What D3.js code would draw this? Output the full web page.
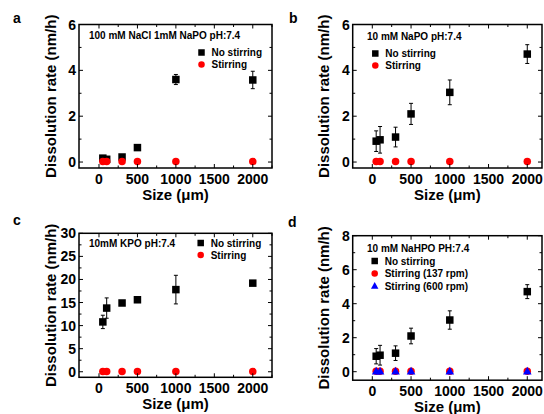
<!DOCTYPE html>
<html>
<head>
<meta charset="utf-8">
<script src="https://cdn.jsdelivr.net/npm/d3@7"></script>
<style>
  body { margin: 0; background: #fff; }
  svg { font-family: "Liberation Sans", Arial, sans-serif; font-weight: bold; }
</style>
</head>
<body>
<svg width="544" height="414"></svg>
<script>
// sizes (um)
const sizes = [50, 100, 300, 500, 1000, 2000];

// panel a: 100 mM NaCl 1mM NaPO
const noStirA = [0.17, 0.12, 0.22, 0.63, 3.6, 3.58];
const errA = [0.05, 0.05, 0.05, 0.08, 0.22, 0.38];
const stirA = [0.02, 0.02, 0.02, 0.02, 0.02, 0.02];

// panel b: 10 mM NaPO
const noStirB = [0.91, 0.97, 1.09, 2.1, 3.04, 4.71];
const errB = [0.45, 0.58, 0.43, 0.46, 0.54, 0.41];
const stirB = [0.02, 0.02, 0.02, 0.02, 0.02, 0.02];

// panel c: 10mM KPO
const noStirC = [10.8, 13.8, 14.9, 15.6, 17.8, 19.2];
const errC = [1.45, 2.2, 0.5, 0.6, 3.1, 0.4];
const stirC = [0.05, 0.05, 0.05, 0.05, 0.05, 0.05];

// panel d: 10 mM NaHPO
const noStirD = [0.91, 0.97, 1.09, 2.1, 3.04, 4.71];
const errD = [0.45, 0.58, 0.43, 0.46, 0.54, 0.41];
const stir137D = [0.02, 0.02, 0.02, 0.02, 0.02, 0.02];
const stir600D = [0.02, 0.02, 0.02, 0.02, 0.02, 0.02];

const xTicks = [0, 500, 1000, 1500, 2000];

const svg = d3.select("svg");

const panels = [
  { letter: "a", lx: 13, ly: 23, left: 79, right: 272, top: 24.5, bottom: 168,
    xDom: [-260, 2250],
    yDom: [-0.26, 6], yTicks: [0, 2, 4, 6], yMinor: 1,
    note: "100 mM NaCl 1mM NaPO pH:7.4", noteX: 89, noteY: 39,
    series: [
      { name: "No stirring", vals: noStirA, err: errA, sym: "square", color: "#000" },
      { name: "Stirring", vals: stirA, sym: "circle", color: "#ff0000" }
    ],
    legX: 201.5, legY: 52.5 },
  { letter: "b", lx: 289, ly: 23, left: 352.7, right: 542, top: 24.5, bottom: 168,
    xDom: [-253, 2190],
    yDom: [-0.26, 6], yTicks: [0, 2, 4, 6], yMinor: 1,
    note: "10 mM NaPO pH:7.4", noteX: 367, noteY: 39.5,
    series: [
      { name: "No stirring", vals: noStirB, err: errB, sym: "square", color: "#000" },
      { name: "Stirring", vals: stirB, sym: "circle", color: "#ff0000" }
    ],
    legX: 375.3, legY: 53.5 },
  { letter: "c", lx: 13, ly: 225, left: 79, right: 272, top: 233.3, bottom: 377.3,
    xDom: [-260, 2250],
    yDom: [-1.2, 30], yTicks: [0, 5, 10, 15, 20, 25, 30], yMinor: 2.5,
    note: "10mM KPO pH:7.4", noteX: 89, noteY: 246.5,
    series: [
      { name: "No stirring", vals: noStirC, err: errC, sym: "square", color: "#000" },
      { name: "Stirring", vals: stirC, sym: "circle", color: "#ff0000" }
    ],
    legX: 200.7, legY: 243 },
  { letter: "d", lx: 288, ly: 227, left: 352.7, right: 542, top: 235.7, bottom: 380.2,
    xDom: [-253, 2190],
    yDom: [-0.5, 8], yTicks: [0, 2, 4, 6, 8], yMinor: 1,
    note: "10 mM NaHPO PH:7.4", noteX: 367, noteY: 252,
    series: [
      { name: "No stirring", vals: noStirD, err: errD, sym: "square", color: "#000" },
      { name: "Stirring (137 rpm)", vals: stir137D, sym: "circle", color: "#ff0000" },
      { name: "Stirring (600 rpm)", vals: stir600D, sym: "triangle", color: "#0000ff" }
    ],
    legX: 374.7, legY: 261, legStep: 12.5 }
];

function drawSym(g, sym, cx, cy, s, color) {
  if (sym === "square") {
    g.append("rect").attr("x", cx - s / 2).attr("y", cy - s / 2)
      .attr("width", s).attr("height", s).attr("fill", color);
  } else if (sym === "circle") {
    g.append("circle").attr("cx", cx).attr("cy", cy).attr("r", s / 2).attr("fill", color);
  } else {
    const w = s * 1.15, h = s * 1.05;
    g.append("path")
      .attr("d", `M${cx},${cy - h * 0.6}L${cx + w / 2},${cy + h * 0.4}L${cx - w / 2},${cy + h * 0.4}Z`)
      .attr("fill", color);
  }
}

panels.forEach(p => {
  const x = d3.scaleLinear().domain(p.xDom).range([p.left, p.right]);
  const y = d3.scaleLinear().domain(p.yDom).range([p.bottom, p.top]);
  const g = svg.append("g");

  // panel letter
  svg.append("text").attr("x", p.lx).attr("y", p.ly)
    .attr("font-size", 14).text(p.letter);

  // data: error bars, then markers
  p.series.forEach(s => {
    if (s.err) {
      sizes.forEach((sz, i) => {
        const cx = x(sz), y1 = y(s.vals[i] - s.err[i]), y2 = y(s.vals[i] + s.err[i]);
        g.append("line").attr("x1", cx).attr("x2", cx).attr("y1", y1).attr("y2", y2)
          .attr("stroke", "#000").attr("stroke-width", 1);
        [y1, y2].forEach(yy => g.append("line").attr("x1", cx - 2).attr("x2", cx + 2)
          .attr("y1", yy).attr("y2", yy).attr("stroke", "#000").attr("stroke-width", 1));
      });
    }
    sizes.forEach((sz, i) => drawSym(g, s.sym, x(sz), y(s.vals[i]), 7.5, s.color));
  });

  // frame
  g.append("rect").attr("x", p.left).attr("y", p.top)
    .attr("width", p.right - p.left).attr("height", p.bottom - p.top)
    .attr("fill", "none").attr("stroke", "#000").attr("stroke-width", 1.5);

  // x ticks (inward, bottom and top), minor every 250
  d3.range(0, p.xDom[1] + 1, 250).forEach(v => {
    const major = v % 500 === 0;
    const len = major ? 4 : 2.5;
    g.append("line").attr("x1", x(v)).attr("x2", x(v))
      .attr("y1", p.bottom).attr("y2", p.bottom - len).attr("stroke", "#000");
    g.append("line").attr("x1", x(v)).attr("x2", x(v))
      .attr("y1", p.top).attr("y2", p.top + len).attr("stroke", "#000");
  });
  xTicks.forEach(v => {
    g.append("text").attr("x", x(v)).attr("y", p.bottom + 16)
      .attr("text-anchor", "middle").attr("font-size", 14).text(v);
  });

  // y ticks (inward, left and right)
  const yMax = p.yTicks[p.yTicks.length - 1];
  d3.range(0, yMax + 0.001, p.yMinor).forEach(v => {
    const major = p.yTicks.includes(v);
    const len = major ? 4 : 2.5;
    g.append("line").attr("x1", p.left).attr("x2", p.left + len)
      .attr("y1", y(v)).attr("y2", y(v)).attr("stroke", "#000");
    g.append("line").attr("x1", p.right).attr("x2", p.right - len)
      .attr("y1", y(v)).attr("y2", y(v)).attr("stroke", "#000");
  });
  p.yTicks.forEach(v => {
    g.append("text").attr("x", p.left - 3).attr("y", y(v) + 5)
      .attr("text-anchor", "end").attr("font-size", 14).text(v);
  });

  // axis titles
  g.append("text").attr("x", (p.left + p.right) / 2).attr("y", p.bottom + 32)
    .attr("text-anchor", "middle").attr("font-size", 15).text("Size (\u03bcm)");
  const ty = (p.top + p.bottom) / 2;
  const tx = p.left - 23.5;
  g.append("text").attr("transform", `translate(${tx},${ty}) rotate(-90)`)
    .attr("text-anchor", "middle").attr("font-size", 15).text("Dissolution rate (nm/h)");

  // annotation
  g.append("text").attr("x", p.noteX).attr("y", p.noteY)
    .attr("font-size", 10).text(p.note);

  // legend
  const step = p.legStep || 12;
  p.series.forEach((s, i) => {
    const ly = p.legY + i * step;
    drawSym(g, s.sym, p.legX, ly, 6.5, s.color);
    g.append("text").attr("x", p.legX + 10).attr("y", ly + 3.5)
      .attr("font-size", 10).text(s.name);
  });
});
</script>
</body>
</html>
